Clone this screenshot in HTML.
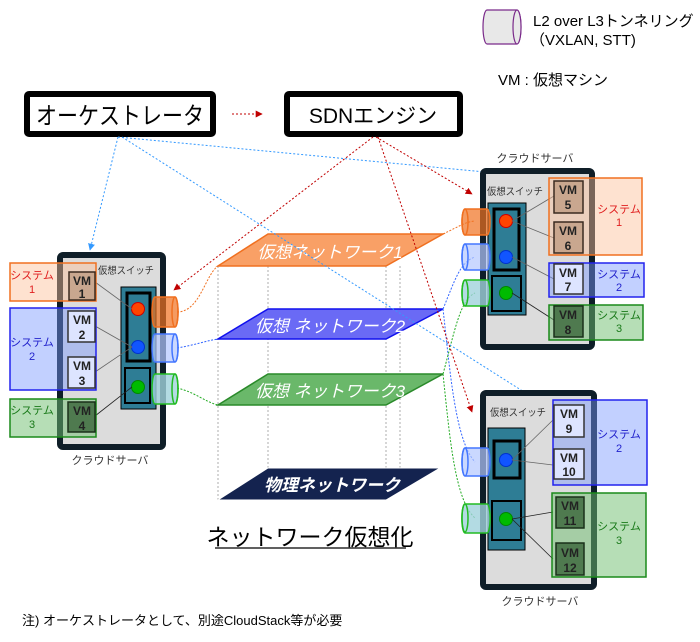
<!DOCTYPE html>
<html><head><meta charset="utf-8"><style>
body{margin:0;background:#fff;width:700px;height:637px;overflow:hidden}
text{font-family:"Liberation Sans","Noto Sans CJK JP",sans-serif}
</style></head><body>
<svg width="700" height="637" xmlns="http://www.w3.org/2000/svg">
<defs>
<marker id="ab" viewBox="0 0 10 10" refX="9" refY="5" markerWidth="7" markerHeight="7" orient="auto"><path d="M0,0L10,5L0,10z" fill="#3399ff"/></marker>
<marker id="ar" viewBox="0 0 10 10" refX="9" refY="5" markerWidth="7" markerHeight="7" orient="auto"><path d="M0,0L10,5L0,10z" fill="#c00000"/></marker>
</defs>
<!-- legend -->
<path d="M487,10 h30 a4,17 0 0 1 0,34 h-30 a4,17 0 0 1 0,-34z" fill="#e8e8e8" stroke="#7a2a8a" stroke-width="1.2"/>
<ellipse cx="517" cy="27" rx="4" ry="17" fill="#e8e8e8" stroke="#7a2a8a" stroke-width="1.2"/>
<text x="533" y="26" font-size="15">L2 over L3トンネリング</text>
<text x="530" y="45" font-size="15">（VXLAN, STT)</text>
<text x="498" y="85" font-size="15">VM : 仮想マシン</text>
<!-- top boxes -->
<rect x="27" y="94" width="186" height="40" fill="#fff" stroke="#000" stroke-width="6" rx="2"/>
<text x="36" y="124" font-size="24" textLength="168" lengthAdjust="spacingAndGlyphs">オーケストレータ</text>
<rect x="287" y="94" width="173" height="40" fill="#fff" stroke="#000" stroke-width="6" rx="2"/>
<text x="373" y="123" font-size="21" text-anchor="middle">SDNエンジン</text>
<line x1="232" y1="114" x2="262" y2="114" stroke="#c00000" stroke-dasharray="2,2" marker-end="url(#ar)"/>
<!-- vertical dotted lines -->
<g stroke="#999" stroke-dasharray="2,2" stroke-width="0.8">
<line x1="218" y1="266" x2="218" y2="500"/><line x1="268" y1="266" x2="268" y2="468"/>
<line x1="386" y1="266" x2="386" y2="500"/><line x1="400" y1="266" x2="400" y2="468"/>
</g>
<!-- planes -->
<path d="M268,234 L443,234 L386,266 L218,266z" fill="#f9a066" stroke="#f07020" stroke-width="1.5"/>
<text x="330" y="258" font-size="17" fill="#fff" font-style="italic" text-anchor="middle">仮想ネットワーク1</text>
<path d="M268,309 L443,309 L386,339 L218,339z" fill="#6a6af5" stroke="#1010ee" stroke-width="1.5"/>
<text x="330" y="332" font-size="17" fill="#fff" font-style="italic" text-anchor="middle">仮想 ネットワーク2</text>
<path d="M268,374 L443,374 L386,405 L218,405z" fill="#6ab86a" stroke="#2a8a2a" stroke-width="1.5"/>
<text x="330" y="397" font-size="17" fill="#fff" font-style="italic" text-anchor="middle">仮想 ネットワーク3</text>
<path d="M268,468 L440,468 L386,500 L218,500z" fill="#14234f" stroke="#fff" stroke-width="1"/>
<text x="332" y="491" font-size="17" fill="#fff" font-style="italic" font-weight="bold" text-anchor="middle">物理ネットワーク</text>
<text x="310" y="545" font-size="23" text-anchor="middle">ネットワーク仮想化</text>
<line x1="215" y1="548" x2="406" y2="548" stroke="#000" stroke-width="1.2"/>
<!-- curves -->
<g fill="none" stroke-dasharray="2,1.5" stroke-width="1">
<path d="M177,312 C200,312 205,275 218,266 M443,234 C460,226 465,222 475,221" stroke="#f07020"/>
<path d="M177,348 C195,345 205,341 218,339 M443,309 C455,280 460,262 475,257" stroke="#3366ff"/>
<path d="M443,309 C450,370 455,440 475,462" stroke="#3366ff"/>
<path d="M177,388 C195,392 205,402 218,405 M443,374 C455,330 460,300 475,293" stroke="#22aa22"/>
<path d="M443,374 C450,440 455,500 475,518" stroke="#22aa22"/>
</g>
<!-- control lines -->
<g fill="none" stroke-dasharray="2,2" stroke-width="1">
<line x1="118" y1="137" x2="90" y2="250" stroke="#3399ff" marker-end="url(#ab)"/>
<line x1="118" y1="137" x2="548" y2="178" stroke="#3399ff" marker-end="url(#ab)"/>
<line x1="122" y1="137" x2="532" y2="397" stroke="#3399ff" marker-end="url(#ab)"/>
<line x1="373" y1="137" x2="174" y2="290" stroke="#c00000" marker-end="url(#ar)"/>
<line x1="376" y1="137" x2="472" y2="194" stroke="#c00000" marker-end="url(#ar)"/>
<line x1="378" y1="137" x2="472" y2="412" stroke="#c00000" marker-end="url(#ar)"/>
</g>
<!-- LEFT SERVER -->
<rect x="60" y="255" width="103" height="192" rx="3" fill="#dcdcdc" stroke="#0f1e28" stroke-width="6"/>
<text x="98" y="274" font-size="10" fill="#333" textLength="56" lengthAdjust="spacingAndGlyphs">仮想スイッチ</text>
<text x="110" y="464" font-size="11" fill="#333" text-anchor="middle">クラウドサーバ</text>
<rect x="121" y="287" width="35" height="122" fill="#2e7d95" stroke="#000"/>
<rect x="127" y="293" width="23" height="68" fill="#2e7d95" stroke="#000" stroke-width="3"/>
<rect x="125" y="368" width="25" height="35" fill="#2e7d95" stroke="#000" stroke-width="2"/>
<circle cx="138" cy="309" r="6.5" fill="#ff4400" stroke="#c00"/>
<circle cx="138" cy="347" r="6.5" fill="#1155ff" stroke="#0033cc"/>
<circle cx="138" cy="387" r="6.5" fill="#00bb00" stroke="#008800"/>
<g stroke="#666" stroke-width="0.8"><line x1="95" y1="282" x2="132" y2="309"/><line x1="95" y1="326" x2="132" y2="347"/><line x1="95" y1="372" x2="132" y2="347"/><line x1="95" y1="416" x2="132" y2="387" stroke="#222"/></g>
<rect x="10" y="263" width="86" height="38" fill="rgba(253,190,150,0.45)" stroke="#f07020" stroke-width="1.5"/>
<rect x="10" y="308" width="86" height="82" fill="rgba(120,150,255,0.45)" stroke="#2222ee" stroke-width="1.5"/>
<rect x="10" y="399" width="86" height="38" fill="rgba(110,190,110,0.5)" stroke="#1a8a1a" stroke-width="1.5"/>
<rect x="69" y="272" width="26" height="28" fill="#c9a78f" stroke="#3a2a20" stroke-width="1.5"/>
<rect x="68" y="311" width="27" height="31" fill="#dde4ff" stroke="#333" stroke-width="1.5"/>
<rect x="68" y="357" width="27" height="31" fill="#dde4ff" stroke="#333" stroke-width="1.5"/>
<rect x="68" y="402" width="27" height="30" fill="#4f7a4f" stroke="#1a301a" stroke-width="1.5"/>
<g font-size="12" font-weight="bold" text-anchor="middle" fill="#222">
<text x="82" y="285">VM</text><text x="82" y="298">1</text>
<text x="82" y="324">VM</text><text x="82" y="339">2</text>
<text x="82" y="370">VM</text><text x="82" y="385">3</text>
<text x="82" y="415">VM</text><text x="82" y="430">4</text></g>
<g font-size="11" text-anchor="middle"><text x="32" y="279" fill="#e02020">システム</text><text x="32" y="293" fill="#e02020">1</text>
<text x="32" y="346" fill="#2222cc">システム</text><text x="32" y="360" fill="#2222cc">2</text>
<text x="32" y="414" fill="#1a7a1a">システム</text><text x="32" y="428" fill="#1a7a1a">3</text></g>
<!-- left cylinders -->
<g stroke-width="1.5">
<path d="M155,297 h20 a3,15 0 0 1 0,30 h-20 a3,15 0 0 1 0,-30z" fill="rgba(240,112,32,0.7)" stroke="#f07020"/><ellipse cx="175" cy="312" rx="3" ry="15" fill="none" stroke="#f07020"/>
<path d="M155,334 h20 a3,14 0 0 1 0,28 h-20 a3,14 0 0 1 0,-28z" fill="rgba(180,200,255,0.7)" stroke="#4477ff"/><ellipse cx="175" cy="348" rx="3" ry="14" fill="none" stroke="#4477ff"/>
<path d="M155,374 h20 a3,15 0 0 1 0,30 h-20 a3,15 0 0 1 0,-30z" fill="rgba(160,210,220,0.8)" stroke="#22bb22"/><ellipse cx="175" cy="389" rx="3" ry="15" fill="none" stroke="#22bb22"/>
</g>
<!-- RIGHT SERVER 1 -->
<rect x="483" y="171" width="109" height="176" rx="3" fill="#dcdcdc" stroke="#0f1e28" stroke-width="6"/>
<text x="535" y="162" font-size="11" fill="#333" text-anchor="middle">クラウドサーバ</text>
<text x="487" y="195" font-size="10" fill="#333" textLength="56" lengthAdjust="spacingAndGlyphs">仮想スイッチ</text>
<rect x="488" y="203" width="38" height="112" fill="#2e7d95" stroke="#000"/>
<rect x="494" y="209" width="25" height="61" fill="#2e7d95" stroke="#000" stroke-width="3"/>
<rect x="492" y="276" width="29" height="35" fill="#2e7d95" stroke="#000" stroke-width="2"/>
<circle cx="506" cy="221" r="6.5" fill="#ff4400" stroke="#c00"/>
<circle cx="506" cy="257" r="6.5" fill="#1155ff" stroke="#0033cc"/>
<circle cx="506" cy="293" r="6.5" fill="#00bb00" stroke="#008800"/>
<g stroke="#666" stroke-width="0.8"><line x1="512" y1="221" x2="554" y2="196"/><line x1="512" y1="221" x2="554" y2="238"/><line x1="512" y1="257" x2="554" y2="279"/><line x1="512" y1="293" x2="554" y2="320" stroke="#222"/></g>
<rect x="549" y="178" width="93" height="77" fill="rgba(253,190,150,0.45)" stroke="#f07020" stroke-width="1.5"/>
<rect x="549" y="263" width="95" height="34" fill="rgba(120,150,255,0.45)" stroke="#2222ee" stroke-width="1.5"/>
<rect x="549" y="305" width="94" height="35" fill="rgba(110,190,110,0.5)" stroke="#1a8a1a" stroke-width="1.5"/>
<rect x="554" y="181" width="29" height="32" fill="#c9a78f" stroke="#3a2a20" stroke-width="1.5"/>
<rect x="554" y="222" width="29" height="31" fill="#c9a78f" stroke="#3a2a20" stroke-width="1.5"/>
<rect x="554" y="264" width="29" height="30" fill="#dde4ff" stroke="#333" stroke-width="1.5"/>
<rect x="554" y="306" width="29" height="31" fill="#4f7a4f" stroke="#1a301a" stroke-width="1.5"/>
<g font-size="12" font-weight="bold" text-anchor="middle" fill="#222">
<text x="568" y="194">VM</text><text x="568" y="209">5</text>
<text x="568" y="235">VM</text><text x="568" y="250">6</text>
<text x="568" y="277">VM</text><text x="568" y="291">7</text>
<text x="568" y="319">VM</text><text x="568" y="334">8</text></g>
<g font-size="11" text-anchor="middle"><text x="619" y="213" fill="#e02020">システム</text><text x="619" y="226" fill="#e02020">1</text>
<text x="619" y="278" fill="#2222cc">システム</text><text x="619" y="291" fill="#2222cc">2</text>
<text x="619" y="319" fill="#1a7a1a">システム</text><text x="619" y="332" fill="#1a7a1a">3</text></g>
<g stroke-width="1.5">
<path d="M465,209 h22 a3,13 0 0 1 0,26 h-22 a3,13 0 0 1 0,-26z" fill="rgba(240,112,32,0.7)" stroke="#f07020"/><ellipse cx="465" cy="222" rx="3" ry="13" fill="none" stroke="#f07020"/>
<path d="M465,244 h22 a3,13 0 0 1 0,26 h-22 a3,13 0 0 1 0,-26z" fill="rgba(180,200,255,0.7)" stroke="#4477ff"/><ellipse cx="465" cy="257" rx="3" ry="13" fill="none" stroke="#4477ff"/>
<path d="M465,280 h22 a3,13 0 0 1 0,26 h-22 a3,13 0 0 1 0,-26z" fill="rgba(160,210,220,0.8)" stroke="#22bb22"/><ellipse cx="465" cy="293" rx="3" ry="13" fill="none" stroke="#22bb22"/>
</g>
<!-- RIGHT SERVER 2 -->
<rect x="483" y="393" width="111" height="194" rx="3" fill="#dcdcdc" stroke="#0f1e28" stroke-width="6"/>
<text x="540" y="605" font-size="11" fill="#333" text-anchor="middle">クラウドサーバ</text>
<text x="490" y="416" font-size="10" fill="#333" textLength="56" lengthAdjust="spacingAndGlyphs">仮想スイッチ</text>
<rect x="488" y="428" width="37" height="122" fill="#2e7d95" stroke="#000"/>
<rect x="494" y="441" width="26" height="37" fill="#2e7d95" stroke="#000" stroke-width="3"/>
<rect x="492" y="501" width="29" height="39" fill="#2e7d95" stroke="#000" stroke-width="2"/>
<circle cx="506" cy="460" r="6.5" fill="#1155ff" stroke="#0033cc"/>
<circle cx="506" cy="519" r="6.5" fill="#00bb00" stroke="#008800"/>
<g stroke="#666" stroke-width="0.8"><line x1="512" y1="460" x2="553" y2="420"/><line x1="512" y1="460" x2="553" y2="465"/><line x1="512" y1="519" x2="553" y2="512" stroke="#222"/><line x1="512" y1="519" x2="553" y2="559" stroke="#222"/></g>
<rect x="553" y="400" width="94" height="85" fill="rgba(120,150,255,0.45)" stroke="#2222ee" stroke-width="1.5"/>
<rect x="552" y="493" width="94" height="84" fill="rgba(110,190,110,0.5)" stroke="#1a8a1a" stroke-width="1.5"/>
<rect x="554" y="405" width="30" height="32" fill="#dde4ff" stroke="#333" stroke-width="1.5"/>
<rect x="554" y="449" width="30" height="30" fill="#dde4ff" stroke="#333" stroke-width="1.5"/>
<rect x="556" y="497" width="28" height="31" fill="#4f7a4f" stroke="#1a301a" stroke-width="1.5"/>
<rect x="556" y="543" width="28" height="32" fill="#4f7a4f" stroke="#1a301a" stroke-width="1.5"/>
<g font-size="12" font-weight="bold" text-anchor="middle" fill="#222">
<text x="569" y="418">VM</text><text x="569" y="433">9</text>
<text x="569" y="462">VM</text><text x="569" y="476">10</text>
<text x="570" y="510">VM</text><text x="570" y="525">11</text>
<text x="570" y="557">VM</text><text x="570" y="572">12</text></g>
<g font-size="11" text-anchor="middle"><text x="619" y="438" fill="#2222cc">システム</text><text x="619" y="452" fill="#2222cc">2</text>
<text x="619" y="530" fill="#1a7a1a">システム</text><text x="619" y="544" fill="#1a7a1a">3</text></g>
<g stroke-width="1.5">
<path d="M465,448 h22 a3,14 0 0 1 0,28 h-22 a3,14 0 0 1 0,-28z" fill="rgba(180,200,255,0.7)" stroke="#4477ff"/><ellipse cx="465" cy="462" rx="3" ry="14" fill="none" stroke="#4477ff"/>
<path d="M465,504 h22 a3,14 0 0 1 0,29 h-22 a3,14 0 0 1 0,-29z" fill="rgba(160,210,220,0.8)" stroke="#22bb22"/><ellipse cx="465" cy="518" rx="3" ry="14" fill="none" stroke="#22bb22"/>
</g>
<text x="22" y="625" font-size="13">注) オーケストレータとして、別途CloudStack等が必要</text>
</svg>
</body></html>
